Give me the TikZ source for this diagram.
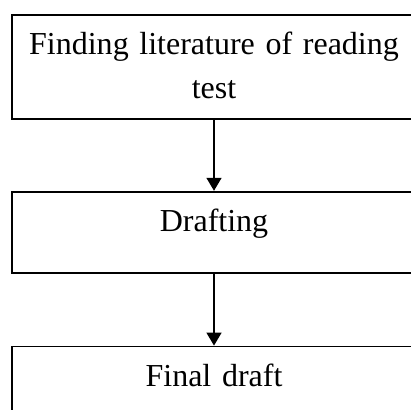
\documentclass[tikz,border=0pt]{standalone}
\usepackage{fontspec}
\setmainfont{Liberation Serif}
\usetikzlibrary{positioning, arrows.meta}

\begin{document}
\begin{tikzpicture}[
    >={Triangle[width=7.5pt, length=6.5pt]},
    every node/.style={font=\fontsize{16pt}{22pt}\selectfont},
    stage/.style={draw, line width=0.9pt, inner xsep=5pt, inner ysep=0pt,
        text width=192pt, align=center, text height=20pt, text depth=20.5pt}
]

\begin{scope}
\clip (0,0) rectangle (205.5pt,-205pt);

% Boxes
\node[stage, anchor=north, text depth=32pt] (find) at (107pt,-7pt)
    {Finding literature of reading\\test};
\node[stage, below=35.5pt of find] (draft) {Drafting};
\node[stage, below=36pt of draft] (final) {Final draft};

% Arrows
\draw[->, line width=0.7pt] (find) -- (draft);
\draw[->, line width=0.7pt] (draft) -- (final);
\end{scope}

\pgfresetboundingbox
\useasboundingbox (0,0) rectangle (205.5pt,-205pt);
\end{tikzpicture}
\end{document}
